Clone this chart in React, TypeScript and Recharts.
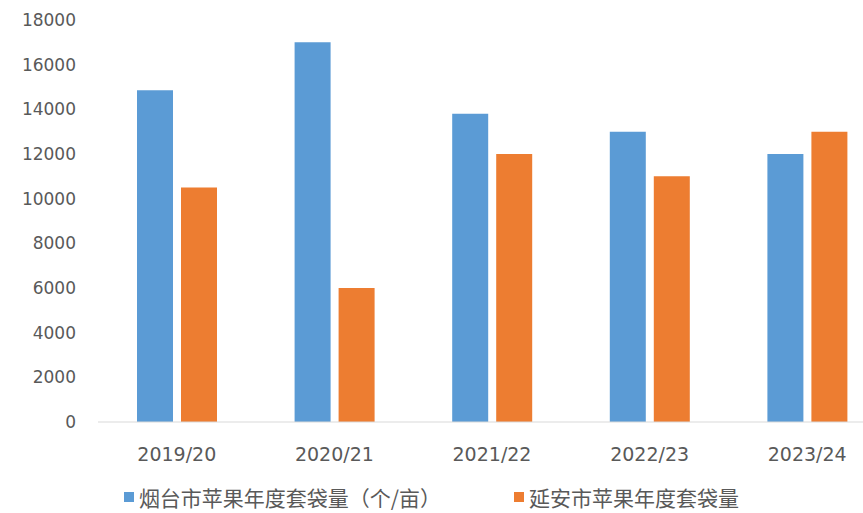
import React from "react";
import { Bar, BarChart, Legend, XAxis, YAxis } from "recharts";

const seasons = ["2019/20", "2020/21", "2021/22", "2022/23", "2023/24"];
const yantaiBags = [14850, 17000, 13800, 13000, 12000];
const yananBags = [10500, 6000, 12000, 11000, 13000];
const yTicks = [0, 2000, 4000, 6000, 8000, 10000, 12000, 14000, 16000, 18000];

const yantaiName = "烟台市苹果年度套袋量（个/亩）";
const yananName = "延安市苹果年度套袋量";

const data = seasons.map((season, i) => ({
  season,
  yantai: yantaiBags[i],
  yanan: yananBags[i],
}));

const BLUE = "#5B9BD5";
const ORANGE = "#ED7D31";

function LegendContent() {
  const items = [
    { name: yantaiName, color: BLUE },
    { name: yananName, color: ORANGE },
  ];
  return (
    <div
      style={{
        display: "flex",
        justifyContent: "center",
        gap: 73,
        fontFamily: "'Noto Sans CJK SC', sans-serif",
        fontSize: 21,
        color: "#595959",
        lineHeight: "30px",
      }}
    >
      {items.map((it) => (
        <div key={it.name} style={{ display: "flex", alignItems: "center" }}>
          <span style={{ width: 10, height: 10, background: it.color, marginRight: 5 }} />
          <span>{it.name}</span>
        </div>
      ))}
    </div>
  );
}

export default function App() {
  return (
    <div
      style={{
        position: "absolute",
        left: 0,
        top: 0,
        width: 863,
        height: 513,
        overflow: "hidden",
        background: "#fff",
      }}
    >
      <BarChart
        width={886}
        height={513}
        data={data}
        margin={{ top: 20, right: 0, bottom: 21, left: 0 }}
        barSize={36}
        barGap={8}
      >
        <XAxis
          dataKey="season"
          height={40}
          tickSize={0}
          tickMargin={26}
          axisLine={{ stroke: "#D9D9D9" }}
          tick={{ fill: "#595959", fontSize: 19, fontFamily: "'DejaVu Sans', sans-serif" }}
        />
        <YAxis
          width={98}
          domain={[0, 18000]}
          ticks={yTicks}
          interval={0}
          axisLine={false}
          tickSize={0}
          tickMargin={22}
          tick={{ fill: "#595959", fontSize: 17, fontFamily: "'DejaVu Sans', sans-serif" }}
        />
        <Legend
          verticalAlign="bottom"
          height={30}
          content={<LegendContent />}
          wrapperStyle={{ left: 0, width: 863, bottom: 1 }}
        />
        <Bar dataKey="yantai" name={yantaiName} fill={BLUE} isAnimationActive={false} />
        <Bar dataKey="yanan" name={yananName} fill={ORANGE} isAnimationActive={false} />
      </BarChart>
    </div>
  );
}
